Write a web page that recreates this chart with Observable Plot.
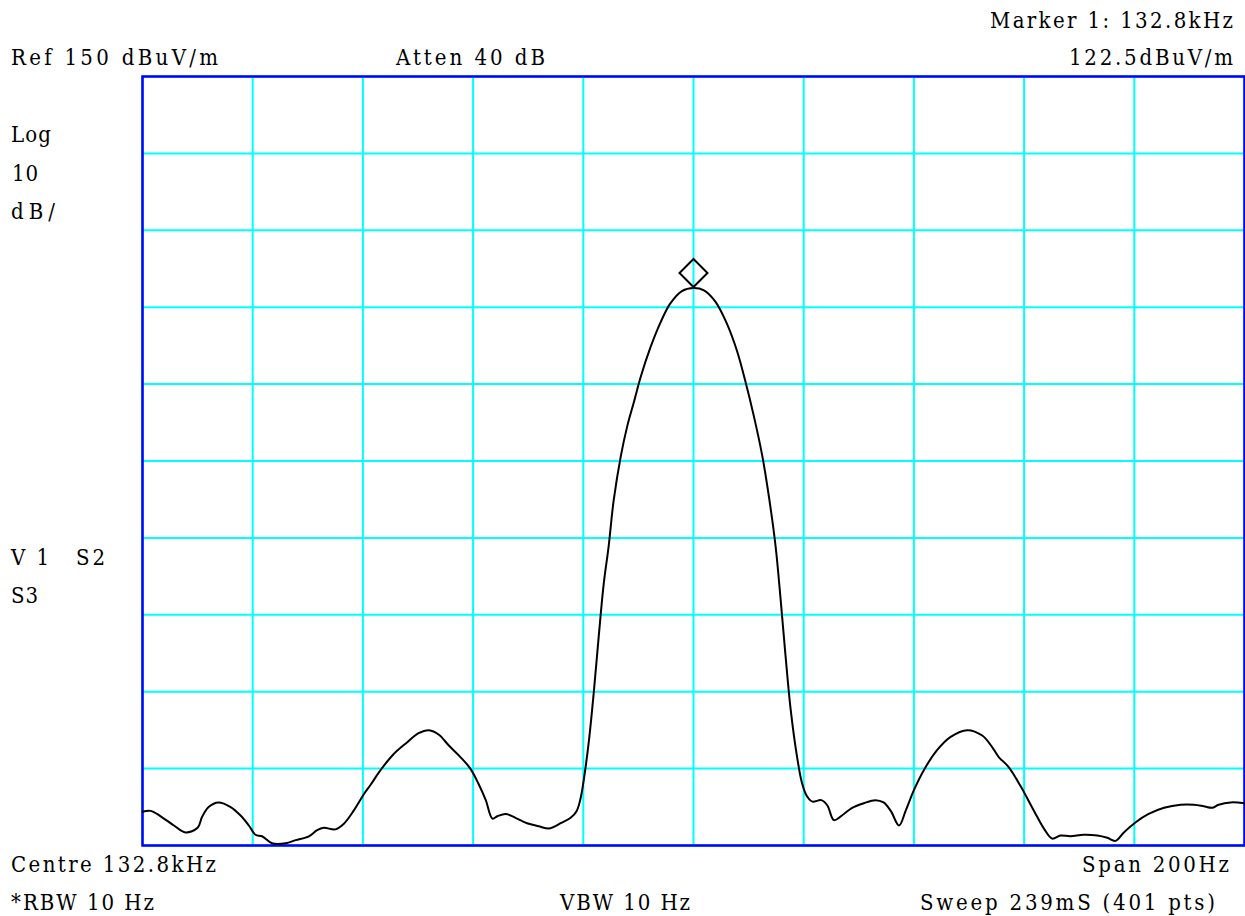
<!DOCTYPE html>
<html>
<head>
<meta charset="utf-8">
<script src="https://cdn.jsdelivr.net/npm/d3@7"></script>
<script src="https://cdn.jsdelivr.net/npm/@observablehq/plot@0.6"></script>
<style>
  html, body { margin: 0; padding: 0; background: #ffffff; }
  #chart { position: relative; width: 1245px; height: 916px; }
  #chart svg { display: block; }
</style>
</head>
<body>
<div id="chart"></div>
<script>
// Analyzer settings
const CENTRE_HZ = 132800;
const SPAN_HZ = 200;
const REF_LEVEL = 150;      // dBuV/m at top graticule line
const DB_PER_DIV = 10;
const DIVISIONS = 10;
const ATTEN_DB = 40;
const RBW_HZ = 10;
const VBW_HZ = 10;
const SWEEP_MS = 239;
const SWEEP_POINTS = 401;

// Marker 1
const markerFreqHz = 132800;
const markerLevel = 122.5;

// Trace: frequency offset from centre (Hz) and level (dBuV/m)
const offsetHz = [
  -100.0, -98.5, -96.7, -94.3, -92.2, -90.0, -89.2, -88.0, -86.2, -84.0,
  -82.2, -80.7, -79.5, -78.3, -76.5, -74.0, -72.2, -69.8, -68.3, -67.1,
  -65.0, -63.5, -61.7, -59.8, -58.6, -56.8, -54.4, -52.0, -49.9, -48.0,
  -46.2, -44.4, -42.3, -40.5, -39.0, -37.7, -36.5, -35.6, -34.1, -32.3,
  -30.2, -28.1, -26.3, -25.4, -24.1, -22.3, -21.2, -20.5, -19.9, -19.0,
  -18.1, -17.2, -16.3, -15.4, -14.5, -13.2, -12.0, -10.8, -9.6, -7.8,
  -6.0, -4.2, -2.1, 0.0, 1.9, 4.0, 6.1, 7.9, 9.4, 10.9,
  12.5, 13.7, 14.9, 15.8, 16.7, 17.6, 18.8, 19.7, 20.6, 21.6,
  23.2, 24.3, 25.5, 27.3, 28.8, 30.9, 33.0, 34.5, 35.8, 37.3,
  38.5, 40.0, 41.8, 44.2, 46.6, 49.7, 52.4, 54.2, 55.4, 57.2,
  59.3, 61.8, 63.6, 65.1, 66.6, 68.4, 70.8, 73.3, 75.1, 76.6,
  78.1, 80.2, 82.6, 85.4, 88.4, 90.8, 92.6, 94.1, 95.3, 97.5,
  100.0
];
const levelDb = [
  54.4, 54.5, 53.8, 52.6, 51.7, 52.3, 53.7, 55.0, 55.6, 55.0,
  53.9, 52.6, 51.4, 51.2, 50.3, 50.3, 50.7, 51.2, 52.0, 52.3,
  52.1, 52.8, 54.5, 56.7, 57.9, 59.8, 61.9, 63.4, 64.6, 65.0,
  64.4, 63.0, 61.5, 60.0, 58.0, 55.9, 53.5, 53.8, 54.1, 53.6,
  52.9, 52.5, 52.2, 52.4, 52.9, 53.6, 54.5, 56.1, 58.6, 63.5,
  69.9, 77.2, 84.0, 88.9, 94.8, 100.6, 104.6, 107.7, 110.9, 114.8,
  118.0, 120.5, 122.1, 122.5, 122.2, 120.7, 117.8, 114.3, 110.4, 106.0,
  100.6, 95.3, 88.9, 82.1, 74.7, 67.9, 61.5, 58.1, 56.4, 55.7,
  55.9, 55.2, 53.3, 54.1, 54.9, 55.5, 55.9, 55.6, 54.5, 52.6,
  54.5, 57.2, 59.8, 62.4, 64.1, 65.0, 64.3, 62.8, 61.5, 60.2,
  57.8, 54.5, 52.2, 50.9, 51.3, 51.2, 51.4, 51.3, 51.0, 50.6,
  51.7, 53.0, 54.1, 54.9, 55.3, 55.3, 55.1, 54.9, 55.3, 55.6,
  55.5
];

const trace = offsetHz.map((d, i) => ({freq: CENTRE_HZ + d, level: levelDb[i]}));

const fStart = CENTRE_HZ - SPAN_HZ / 2;
const fStop = CENTRE_HZ + SPAN_HZ / 2;
const bottomLevel = REF_LEVEL - DB_PER_DIV * DIVISIONS;
const freqTicks = d3.range(DIVISIONS + 1).map(i => fStart + i * SPAN_HZ / DIVISIONS);
const levelTicks = d3.range(DIVISIONS + 1).map(i => bottomLevel + i * DB_PER_DIV);

const W = 1245, H = 916;
const GRID = "#00ffff", BORDER = "#0000ff";

const svg = Plot.plot({
  width: W,
  height: H,
  marginLeft: 142,
  marginRight: 1,
  marginTop: 76,
  marginBottom: 71,
  style: {background: "#ffffff", overflow: "visible"},
  x: {domain: [fStart, fStop], axis: null},
  y: {domain: [bottomLevel, REF_LEVEL], axis: null},
  marks: [
    Plot.gridX(freqTicks, {stroke: GRID, strokeOpacity: 1, strokeWidth: 2}),
    Plot.gridY(levelTicks, {stroke: GRID, strokeOpacity: 1, strokeWidth: 2}),
    Plot.frame({stroke: BORDER, strokeWidth: 2.5}),
    Plot.line(trace, {x: "freq", y: "level", stroke: "#000000", strokeWidth: 2, curve: "catmull-rom"}),
    Plot.dot([{freq: markerFreqHz, level: markerLevel}], {
      x: "freq", y: "level", symbol: "diamond2", r: 12.6,
      stroke: "#000000", strokeWidth: 2, fill: "none", dy: -15
    })
  ]
});

// Instrument annotation text around the graticule
const labels = [
  {text: `Marker 1: ${(markerFreqHz / 1000).toFixed(1)}kHz`, x: 1233, y: 28, anchor: "end", w: 243},
  {text: `Ref ${REF_LEVEL} dBuV/m`, x: 11, y: 65, anchor: "start", w: 207},
  {text: `Atten ${ATTEN_DB} dB`, x: 396, y: 65, anchor: "start", w: 149},
  {text: `${markerLevel.toFixed(1)}dBuV/m`, x: 1233, y: 65, anchor: "end", w: 164},
  {text: "Log", x: 11, y: 142, anchor: "start", w: 40},
  {text: `${DB_PER_DIV}`, x: 12, y: 181, anchor: "start", w: 26},
  {text: "dB/", x: 11, y: 219, anchor: "start", w: 44},
  {text: "V1", x: 11, y: 565, anchor: "start", w: 38},
  {text: "S2", x: 76, y: 565, anchor: "start", w: 29},
  {text: "S3", x: 11, y: 603, anchor: "start", w: 27},
  {text: `Centre ${(CENTRE_HZ / 1000).toFixed(1)}kHz`, x: 11, y: 872, anchor: "start", w: 205},
  {text: `Span ${SPAN_HZ}Hz`, x: 1229, y: 872, anchor: "end", w: 147},
  {text: `*RBW ${RBW_HZ} Hz`, x: 11, y: 910, anchor: "start", w: 143},
  {text: `VBW ${VBW_HZ} Hz`, x: 560, y: 910, anchor: "start", w: 130},
  {text: `Sweep ${SWEEP_MS}mS (${SWEEP_POINTS} pts)`, x: 1215, y: 910, anchor: "end", w: 295}
];

const g = d3.select(svg).append("g")
  .attr("font-family", "'DejaVu Serif Condensed', 'DejaVu Serif', serif")
  .attr("font-stretch", "condensed")
  .attr("font-size", 22)
  .attr("fill", "#000000");

g.selectAll("text")
  .data(labels)
  .join("text")
  .attr("x", d => d.x)
  .attr("y", d => d.y)
  .attr("text-anchor", d => d.anchor)
  .attr("textLength", d => d.w)
  .attr("lengthAdjust", "spacing")
  .text(d => d.text);

document.getElementById("chart").appendChild(svg);
</script>
</body>
</html>
